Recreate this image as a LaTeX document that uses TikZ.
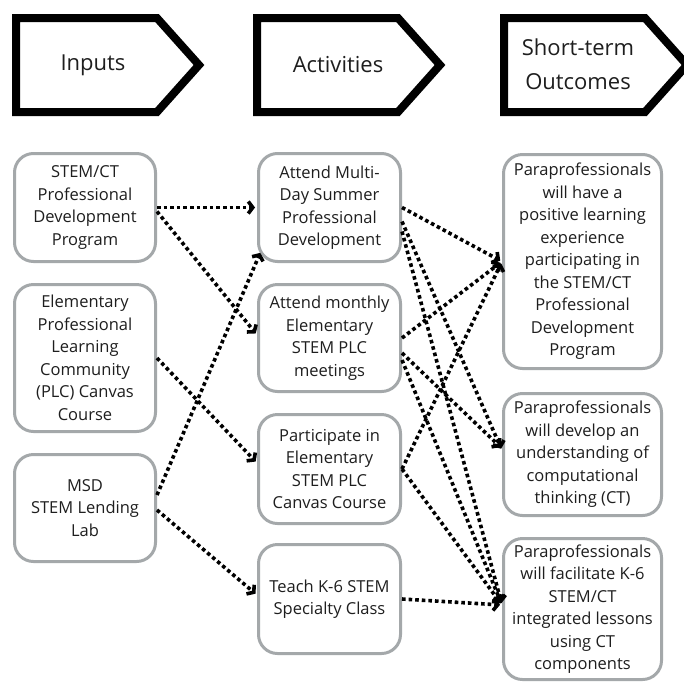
\documentclass[tikz,border=0pt]{standalone}
\usepackage{fontspec}
\setmainfont{Open Sans}
\usetikzlibrary{arrows.meta}
\definecolor{BoxGray}{HTML}{A4A8AA}
\definecolor{InkBlack}{HTML}{1E1E1E}

\begin{document}
\begin{tikzpicture}[
    x=1pt, y=-1pt,
    font=\fontsize{16.5}{22.5}\selectfont,
    hdr/.style={draw=black, line width=8pt, miter limit=10},
    hdrtext/.style={font=\fontsize{22}{34}\selectfont, align=center, text=InkBlack},
    card/.style={draw=BoxGray, line width=3pt, rounded corners=19pt,
        fill=white, align=center, inner sep=0pt, text=InkBlack},
    inbox/.style={card, minimum width=141pt},
    actbox/.style={card, minimum width=142pt},
    outbox/.style={card, minimum width=158pt},
    link/.style={draw=black, line width=3.6pt, dash pattern=on 3.6pt off 3pt,
        shorten >=2pt, -{Straight Barb[length=4.5pt, width=12pt]}},
]
\useasboundingbox[fill=white] (0,0) rectangle (684,683);

% header arrows
\foreach \x in {16,257,504}
    \draw[hdr] (\x,18) -- ++(141,0) -- ++(42,47) -- ++(-42,47) -- ++(-141,0) -- cycle;
\node[hdrtext] (hInputs) at (93,65) {Inputs};
\node[hdrtext] (hActivities) at (338,65) {Activities};
\node[hdrtext] (hOutcomes) at (578,64) {Short-term\\Outcomes};

% inputs
\node[inbox, minimum height=108pt] (stemct) at (85,207.5) {STEM/CT\\Professional\\Development\\Program};
\node[inbox, minimum height=147pt] (plc) at (85,358) {Elementary\\Professional\\Learning\\Community\\(PLC) Canvas\\Course};
\node[inbox, minimum height=107pt] (lending) at (85,508) {MSD\\STEM Lending\\Lab};

% activities
\node[actbox, minimum height=108pt] (summer) at (329.5,207.5) {Attend Multi-\\Day Summer\\Professional\\Development};
\node[actbox, minimum height=107pt] (monthly) at (329.5,338) {Attend monthly\\Elementary\\STEM PLC\\meetings};
\node[actbox, minimum height=109pt] (canvas) at (329.5,469) {Participate in\\Elementary\\STEM PLC\\Canvas Course};
\node[actbox, minimum height=109pt] (teach) at (329.5,599) {Teach K-6 STEM\\Specialty Class};

% short-term outcomes
\node[outbox, minimum height=214pt] (positive) at (582.5,261.5) {Paraprofessionals\\will have a\\positive learning\\experience\\participating in\\the STEM/CT\\Professional\\Development\\Program};
\node[outbox, minimum height=122pt] (understand) at (582.5,454.5) {Paraprofessionals\\will develop an\\understanding of\\computational\\thinking (CT)};
\node[outbox, minimum height=141pt] (facilitate) at (582.5,609) {Paraprofessionals\\will facilitate K-6\\STEM/CT\\integrated lessons\\using CT\\components};

% inputs -> activities
\draw[link] (stemct.east) -- (summer.west);
\draw[link] ([yshift=-4pt]stemct.east) -- ([yshift=3pt]monthly.west);
\draw[link] (plc.east) -- ([yshift=6pt]canvas.west);
\draw[link] ([yshift=13pt]lending.east) -- ([xshift=4pt,yshift=12pt]summer.south west);
\draw[link] ([yshift=-2pt]lending.east) -- ([yshift=4pt]teach.west);

% activities -> outcomes
\draw[link] (summer.east) -- (positive.west);
\draw[link] ([yshift=-14pt]summer.east) -- ([yshift=4pt]understand.west);
\draw[link] ([yshift=-24pt]summer.east) -- ([yshift=4pt]facilitate.west);
\draw[link] (monthly.east) -- (positive.west);
\draw[link] ([yshift=-15pt]monthly.east) -- ([yshift=6pt]understand.west);
\draw[link] ([yshift=-22pt]monthly.east) -- ([yshift=4pt]facilitate.west);
\draw[link] (canvas.east) -- (positive.west);
\draw[link] (canvas.east) -- ([yshift=4pt]facilitate.west);
\draw[link] (teach.east) -- ([yshift=4pt]facilitate.west);

\end{tikzpicture}
\end{document}
